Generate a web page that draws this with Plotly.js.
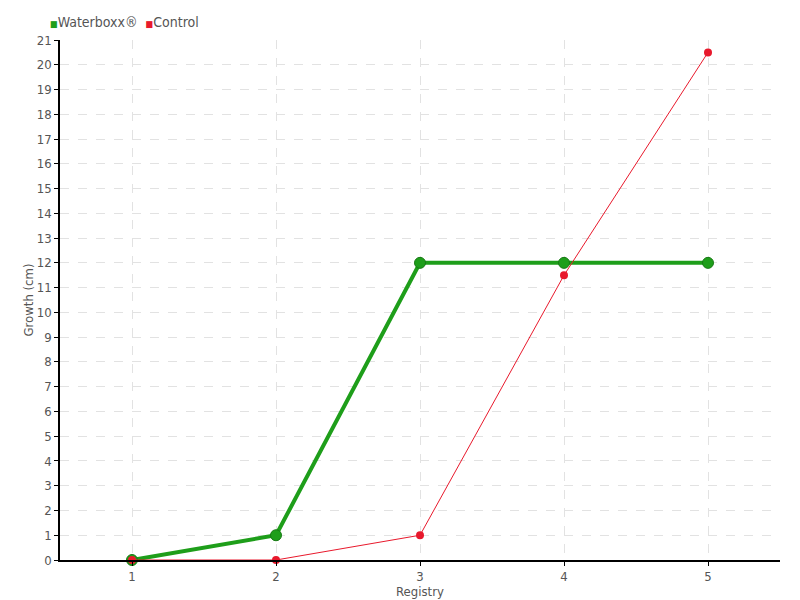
<!DOCTYPE html>
<html>
<head>
<meta charset="utf-8">
<script src="https://cdn.plot.ly/plotly-3.0.1.min.js"></script>
<style>html,body{margin:0;padding:0;background:#fff;}#chart{width:800px;height:600px;}</style>
</head>
<body>
<div id="chart"></div>
<script>
const registry = [1, 2, 3, 4, 5];
const waterboxx = [0, 1, 12, 12, 12];
const control = [0, 0, 1, 11.5, 20.5];
const yTicks = [0,1,2,3,4,5,6,7,8,9,10,11,12,13,14,15,16,17,18,19,20,21];
const seriesNames = ['Waterboxx®', 'Control'];

const FONT = '"DejaVu Sans Condensed", "Liberation Sans Narrow", "Roboto Condensed", sans-serif';
const GREEN = '#1e9e1a';
const RED = '#e8192c';

const traces = [
  {x: registry, y: waterboxx, mode: 'lines+markers', name: seriesNames[0], cliponaxis: false,
   line: {color: GREEN, width: 4}, marker: {color: GREEN, size: 11, line: {color: '#177a14', width: 1}}},
  {x: registry, y: control, mode: 'lines+markers', name: seriesNames[1], cliponaxis: false,
   line: {color: RED, width: 1}, marker: {color: RED, size: 8}}
];

const layout = {
  width: 800, height: 600,
  margin: {l: 60, r: 20, t: 40, b: 40, autoexpand: false},
  paper_bgcolor: '#fff', plot_bgcolor: '#fff',
  font: {family: FONT, size: 13, color: '#555'},
  showlegend: false,
  annotations: [{
    xref: 'paper', yref: 'paper', x: -12/720, y: 1 + 18/520, xanchor: 'left', yanchor: 'middle',
    showarrow: false, align: 'left',
    font: {family: FONT, size: 14, color: '#555'},
    text: '<span style="color:' + GREEN + ';font-size:9px">■</span>' + seriesNames[0] +
          '  <span style="color:' + RED + ';font-size:9px">■</span>' + seriesNames[1]
  }],
  xaxis: {
    range: [0.5, 5.5], tickvals: registry, ticktext: registry.map(String),
    showgrid: true, gridcolor: '#e2e2e2', griddash: 'dash', gridwidth: 1,
    showline: true, linecolor: '#000', linewidth: 1.5, zeroline: false,
    ticks: 'outside', ticklen: 4, tickcolor: '#000',
    tickfont: {family: FONT, size: 13, color: '#555'},
    automargin: false,
    title: {text: 'Registry', font: {family: FONT, size: 13, color: '#555'}, standoff: 0}
  },
  yaxis: {
    range: [0, 21], tickvals: yTicks, ticktext: yTicks.map(String),
    showgrid: true, gridcolor: '#e2e2e2', griddash: 'dash', gridwidth: 1,
    showline: true, linecolor: '#000', linewidth: 1.5, zeroline: false,
    ticks: 'outside', ticklen: 4, tickcolor: '#000',
    tickfont: {family: FONT, size: 13, color: '#555'},
    automargin: false,
    title: {text: 'Growth (cm)', font: {family: FONT, size: 13, color: '#555'}, standoff: 0}
  }
};

Plotly.newPlot('chart', traces, layout, {displayModeBar: false});
</script>
</body>
</html>
